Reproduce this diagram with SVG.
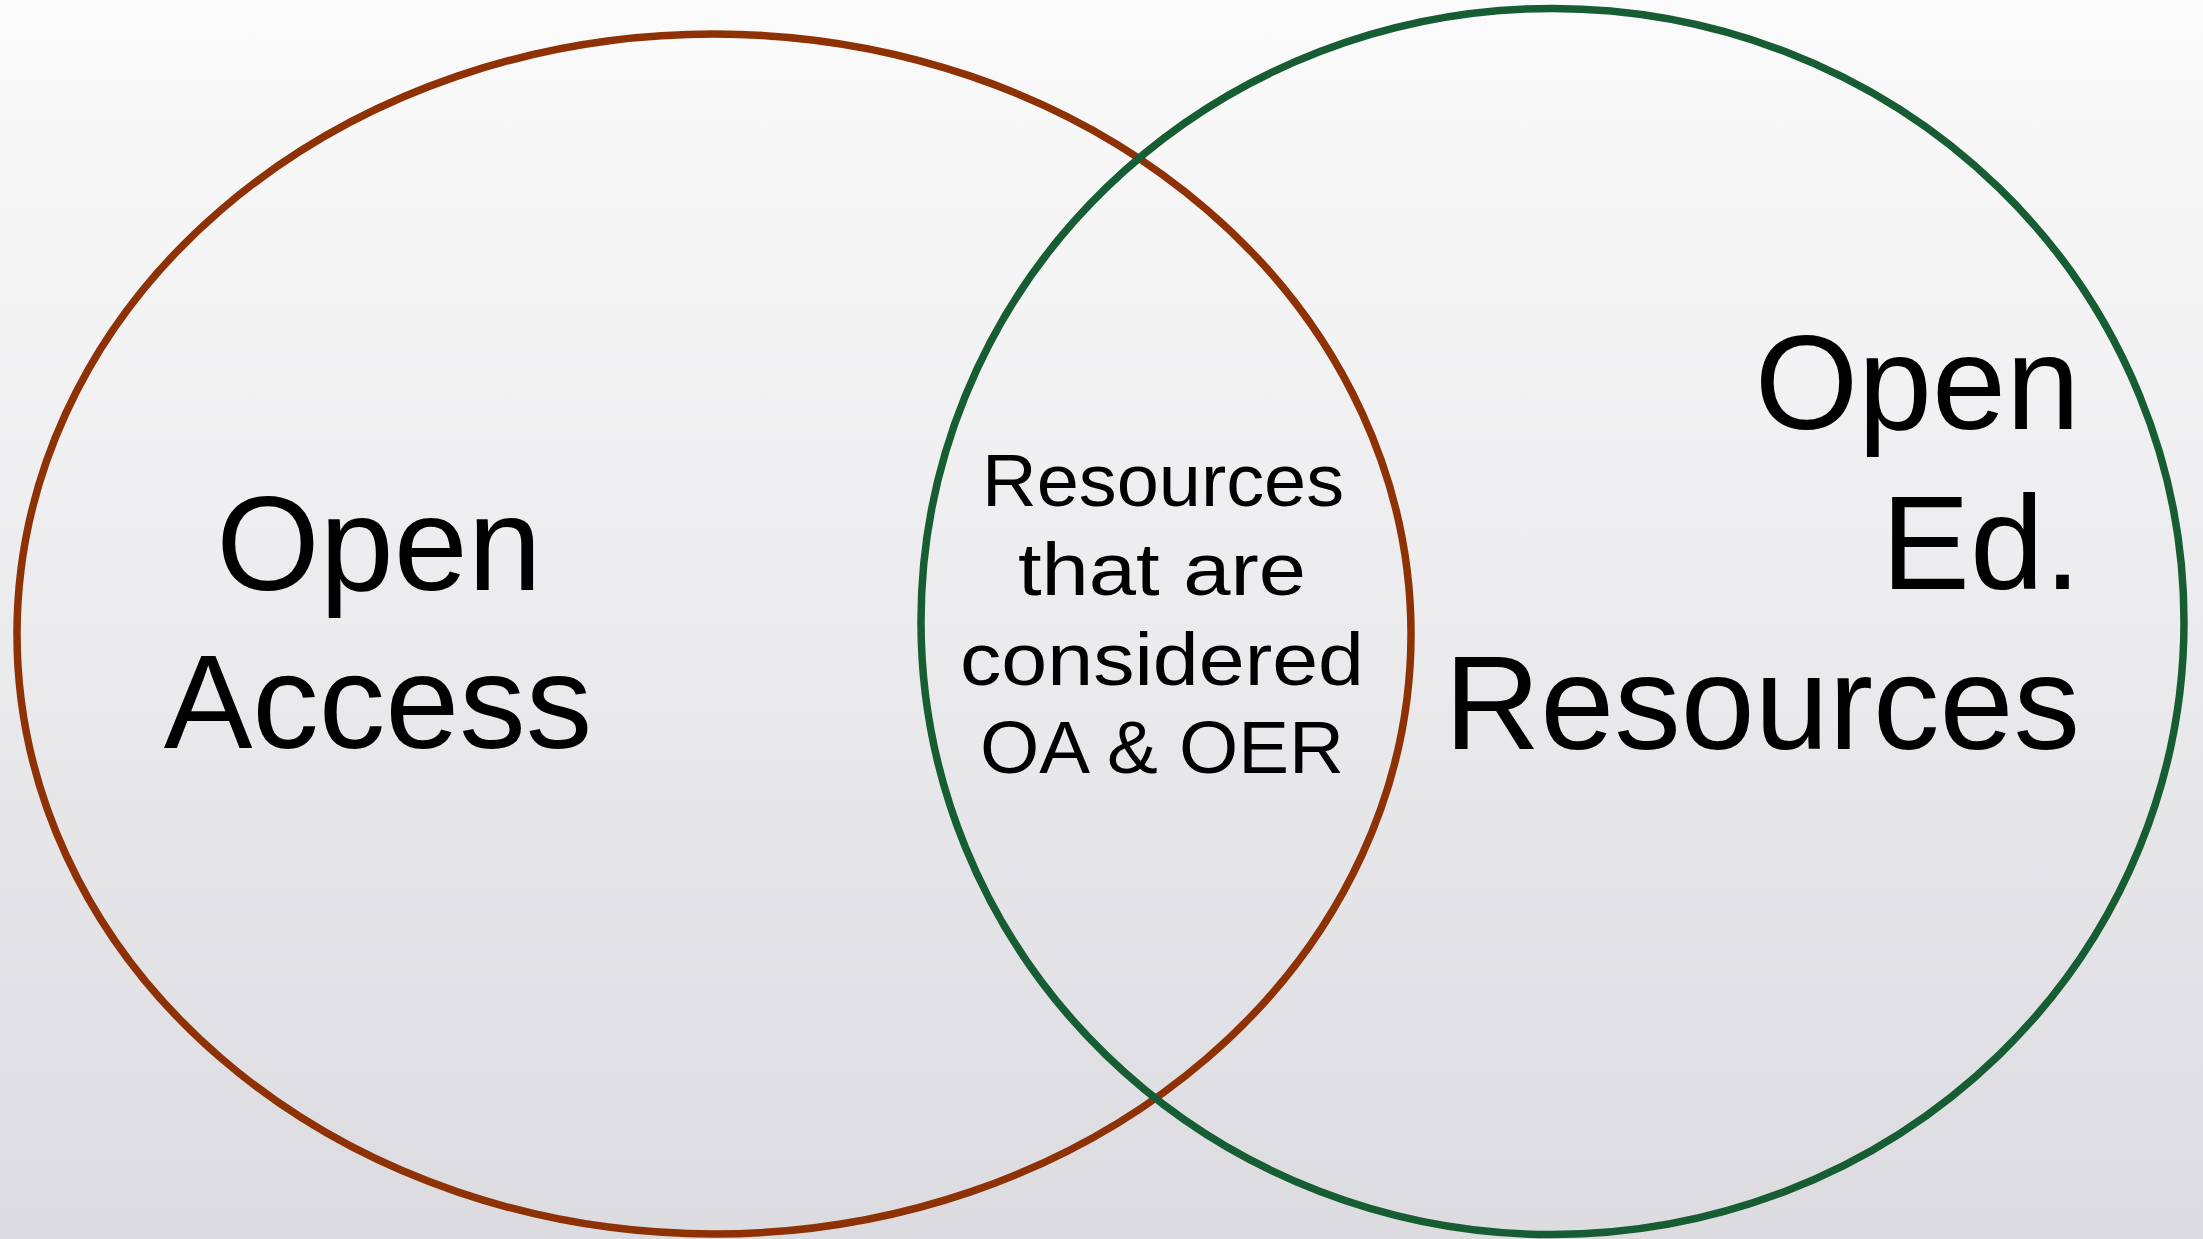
<svg xmlns="http://www.w3.org/2000/svg" width="2203" height="1239" viewBox="0 0 2203 1239">
<defs>
<linearGradient id="bg" x1="0" y1="0" x2="0" y2="1">
<stop offset="0" stop-color="#fbfbfb"/>
<stop offset="1" stop-color="#dcdbe0"/>
</linearGradient>
<style>
.big{font-family:"Liberation Sans",Arial,sans-serif;font-size:133px;fill:#000}
.mid{font-family:"Liberation Sans",Arial,sans-serif;font-size:75px;fill:#000;text-anchor:middle}
.ring{fill:none;stroke-width:7.5}
</style>
</defs>
<rect width="2203" height="1239" fill="url(#bg)"/>
<g id="open-access">
<ellipse class="ring" cx="714" cy="634" rx="697" ry="600" stroke="#8e3206"/>
<text class="big" x="379" y="590" text-anchor="middle">Open</text>
<text class="big" x="378" y="748" text-anchor="middle">Access</text>
</g>
<g id="oer">
<ellipse class="ring" cx="1552.5" cy="621.5" rx="631.5" ry="613" stroke="#175d34"/>
<text class="big" x="2080" y="429" text-anchor="end">Open</text>
<text class="big" x="2081" y="589" text-anchor="end">Ed.</text>
<text class="big" x="2080" y="749" text-anchor="end">Resources</text>
</g>
<g id="overlap">
<text class="mid" x="1163" y="506" textLength="362" lengthAdjust="spacingAndGlyphs">Resources</text>
<text class="mid" x="1162" y="595" textLength="288" lengthAdjust="spacingAndGlyphs">that are</text>
<text class="mid" x="1162" y="685" textLength="404" lengthAdjust="spacingAndGlyphs">considered</text>
<text class="mid" x="1162" y="773" textLength="364" lengthAdjust="spacingAndGlyphs">OA &amp; OER</text>
</g>
<g id="connectors"></g>
</svg>
